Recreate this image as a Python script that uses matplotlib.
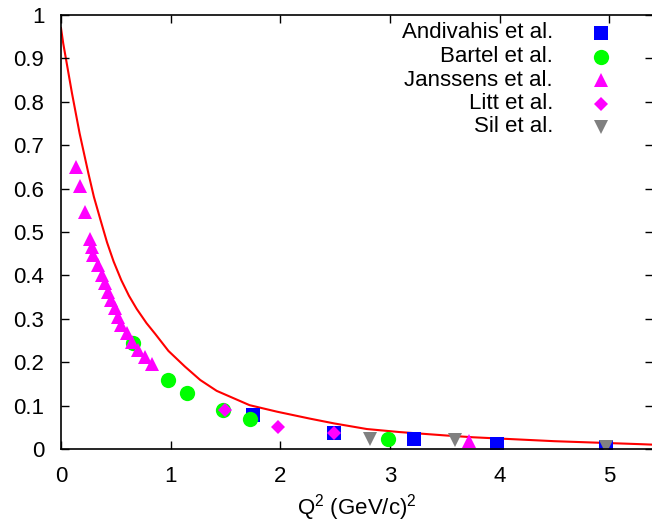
import matplotlib.pyplot as plt

plt.rcParams['font.family'] = ['Liberation Sans', 'DejaVu Sans']
plt.rcParams['font.size'] = 16
plt.rcParams['mathtext.fontset'] = 'custom'
plt.rcParams['mathtext.rm'] = 'Liberation Sans'

# measured form factor vs Q^2 (GeV/c)^2
andivahis_q2 = [1.75, 2.49, 3.22, 3.98, 4.97]
andivahis_g = [0.078, 0.036, 0.022, 0.012, 0.005]

bartel_q2 = [0.66, 0.98, 1.15, 1.48, 1.72, 2.98]
bartel_g = [0.245, 0.159, 0.128, 0.090, 0.068, 0.022]

janssens_q2 = [0.14, 0.17, 0.22, 0.26, 0.28, 0.295, 0.34, 0.37, 0.40, 0.43,
               0.46, 0.49, 0.52, 0.55, 0.60, 0.645, 0.705, 0.765, 0.83, 3.72]
janssens_g = [0.650, 0.605, 0.547, 0.485, 0.466, 0.447, 0.424, 0.401, 0.382, 0.362,
              0.343, 0.325, 0.305, 0.286, 0.267, 0.247, 0.228, 0.213, 0.197, 0.019]

litt_q2 = [1.50, 1.98, 2.49]
litt_g = [0.090, 0.051, 0.038]

sil_q2 = [2.82, 3.59, 4.97]
sil_g = [0.022, 0.021, 0.005]

# model curve
curve_q2 = [0.0, 0.02, 0.05, 0.10, 0.17, 0.25, 0.30, 0.36, 0.42, 0.48, 0.55,
            0.62, 0.69, 0.78, 0.86, 0.98, 1.13, 1.27, 1.42, 1.72, 1.97, 2.27, 2.49,
            2.79, 3.09, 3.52, 3.76, 4.50, 5.30, 5.40]
curve_g = [0.970, 0.935, 0.892, 0.820, 0.727, 0.635, 0.581, 0.528, 0.476, 0.432, 0.389,
           0.353, 0.323, 0.290, 0.265, 0.226, 0.190, 0.159, 0.134, 0.101, 0.086, 0.070, 0.059,
           0.046, 0.039, 0.031, 0.027, 0.018, 0.011, 0.010]

series = [
    ('Andivahis et al.', andivahis_q2, andivahis_g, 's', '#0000ff', 10.5),
    ('Bartel et al.', bartel_q2, bartel_g, 'o', '#00ff00', 11),
    ('Janssens et al.', janssens_q2, janssens_g, '^', '#ff00ff', 10),
    ('Litt et al.', litt_q2, litt_g, 'D', '#ff00ff', 7.5),
    ('Sil et al.', sil_q2, sil_g, 'v', '#808080', 10),
]

fig = plt.figure(figsize=(6.52, 5.25), dpi=100)
ax = fig.add_axes([61 / 652, 1 - 449 / 525, 592 / 652, 434 / 525])

ax.plot(curve_q2, curve_g, color='#ff0000', lw=1.5, zorder=1)

for name, xs, ys, mk, col, ms in series:
    ax.plot(xs, ys, ls='none', marker=mk, color=col, ms=ms, mew=0, zorder=2)

# key: right aligned text, symbol to the right
for i, (name, xs, ys, mk, col, ms) in enumerate(series):
    yy = 1 - (33 + 23.5 * i) / 525
    fig.text(553 / 652, yy, name, ha='right', va='center', fontsize=16)
    ax.plot([601 / 652], [yy], transform=fig.transFigure, marker=mk, color=col,
            ms=ms, mew=0, clip_on=False)

ax.set_xlim(0, 5.4)
ax.set_ylim(0, 1)
ax.set_xticks([0, 1, 2, 3, 4, 5])
ax.set_yticks([0, 0.1, 0.2, 0.3, 0.4, 0.5, 0.6, 0.7, 0.8, 0.9, 1])
ax.set_yticklabels(['0', '0.1', '0.2', '0.3', '0.4', '0.5', '0.6', '0.7', '0.8', '0.9', '1'])
ax.tick_params(direction='in', length=6, width=1, top=True, right=True, pad=12)
for s in ax.spines.values():
    s.set_linewidth(1.2)

ax.set_xlabel('Q$^{2}$ (GeV/c)$^{2}$', labelpad=4)

plt.savefig('out.png', dpi=100)
